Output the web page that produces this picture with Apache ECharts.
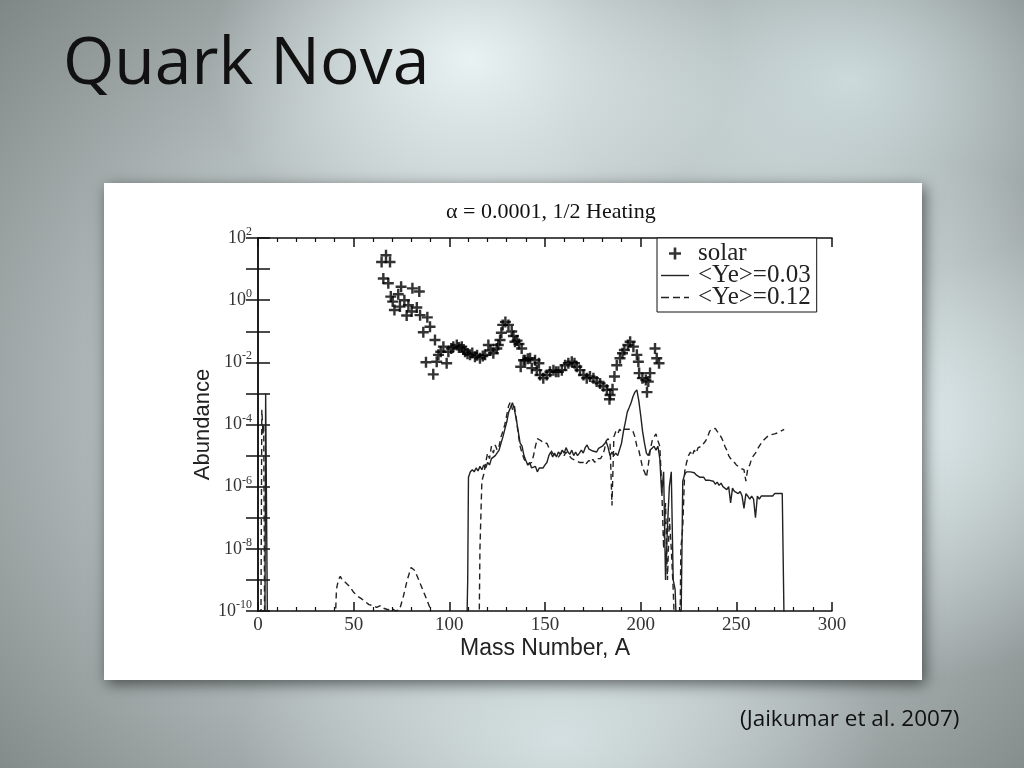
<!DOCTYPE html>
<html><head><meta charset="utf-8">
<script src="https://cdn.jsdelivr.net/npm/echarts/dist/echarts.min.js"></script>
<style>
html,body{margin:0;padding:0;width:1024px;height:768px;overflow:hidden;}
body{
 background:
  radial-gradient(ellipse 260px 200px at 470px 60px, rgba(235,245,245,0.95), rgba(235,245,245,0) 100%),
  radial-gradient(ellipse 300px 260px at 900px 420px, rgba(225,238,240,0.9), rgba(225,238,240,0) 100%),
  radial-gradient(ellipse 280px 200px at 850px 80px, rgba(215,230,232,0.8), rgba(215,230,232,0) 100%),
  radial-gradient(ellipse 320px 200px at 560px 740px, rgba(220,232,234,0.8), rgba(220,232,234,0) 100%),
  radial-gradient(ellipse 700px 600px at 520px 400px, #d6dfe0 0%, #b5bebe 55%, #7f8686 100%);
}
#c{width:1024px;height:768px;}
</style></head><body><div id="c"></div><script>
// ---- data ----
const xTickLabels = [0, 50, 100, 150, 200, 250, 300];
const chartTitle = 'α = 0.0001, 1/2 Heating';
const seriesNames = ['solar', '<Ye>=0.03', '<Ye>=0.12'];

const solar = [
 [64.6,17],[65.5,5.0],[66.9,28],[68.1,3.5],[69.0,17],[69.4,1.3],[70.4,0.9],[71.3,0.48],[73.3,1.55],[74.2,0.62],
 [74.8,2.7],[76.5,1.0],[77.7,0.32],[78.6,0.69],[80.3,0.43],[80.7,2.4],[83.0,0.58],[84.3,1.9],[84.7,0.33],[86.4,0.093],
 [87.8,0.010],[88.5,0.28],[89.9,0.14],[91.6,0.0041],[92.5,0.052],[93.4,0.0105],[94.3,0.0174],[95.5,0.022],[96.9,0.032],[98.6,0.0093],
 [99.5,0.022],[101,0.028],[102.1,0.032],[103.9,0.036],[105,0.030],[106.5,0.032],[107.5,0.026],[108.2,0.022],[109.5,0.019],[110.8,0.0174],
 [112,0.020],[113.4,0.015],[114.5,0.017],[116.0,0.0135],[117.5,0.016],[118.7,0.0174],[120.4,0.036],[121.5,0.024],[123.0,0.0195],[124.8,0.028],
 [125.6,0.036],[126.5,0.052],[127.2,0.09],[127.9,0.16],[129.3,0.2],[130.9,0.16],[132.6,0.098],[133.5,0.07],[134.3,0.046],[135.4,0.05],
 [136.4,0.039],[137.3,0.0072],[137.8,0.028],[138.8,0.0117],[139.6,0.0117],[141,0.013],[142.2,0.0135],[143.1,0.0065],[144.8,0.0117],[145.7,0.0056],
 [146.8,0.0093],[147.4,0.0039],[149.1,0.0031],[150.9,0.0039],[152.6,0.005],[154.4,0.0056],[155.7,0.005],[157.0,0.005],[158.8,0.0056],[160.5,0.0081],
 [162.2,0.0093],[164.0,0.0105],[165.4,0.0093],[166.6,0.0072],[168.3,0.0056],[170.1,0.0039],[171.8,0.0031],[173.5,0.0035],[175.3,0.0031],[177.0,0.0024],
 [178.8,0.0021],[180.5,0.0017],[182.3,0.0013],[183.7,0.00065],[184.0,0.00089],[185.3,0.00135],[186.3,0.0035],[187.5,0.0081],[189.2,0.0135],[190.5,0.0195],
 [191.5,0.025],[193.3,0.036],[194.5,0.046],[196.2,0.032],[198.0,0.0174],[198.8,0.0105],[199.2,0.0045],[200.9,0.0031],[202.7,0.0027],[203.3,0.0011],
 [204.0,0.0024],[204.9,0.0045],[207.5,0.028],[208.4,0.0135],[209.6,0.0093]
];

const ye003 = [
 [0,1e-11],[3.6,1e-11],[4,1e-3],[4.6,1e-3],[5,1e-11],[109,1e-11],[109.6,1e-9],
 [110,2e-6],[111,3e-6],[112,3.5e-6],[113,3e-6],[114,4e-6],[115,3.2e-6],[116,4.5e-6],[117,3.5e-6],[118,5e-6],[119,4e-6],
 [120,6e-6],[121,5e-6],[122,8e-6],[123,7e-6],[124,1e-5],[125,9e-6],[126,1.5e-5],[127,2.5e-5],[128,4e-5],[129,7e-5],
 [130,1.2e-4],[131,2.5e-4],[132,3.5e-4],[133,5e-4],[134,3e-4],[135,1.5e-4],[136,6e-5],[137,2.5e-5],[138,2e-5],[139,1e-5],
 [140,7e-6],[141,5e-6],[142,6e-6],[143,4e-6],[144,3.5e-6],[145,4.5e-6],[146,3e-6],[147,4e-6],[148,3.5e-6],[149,4e-6],
 [150,5e-6],[151,6e-6],[152,1e-5],[153,1.3e-5],[154,9e-6],[155,1.2e-5],[156,9e-6],[157,1.3e-5],[158,1.1e-5],[159,1.5e-5],
 [160,1.2e-5],[161,1.8e-5],[162,1.3e-5],[163,1.1e-5],[164,1.5e-5],[165,1e-5],[166,1.3e-5],[167,1e-5],[168,1.2e-5],[169,1.5e-5],
 [170,1.2e-5],[171,1.8e-5],[172,2.2e-5],[173,1.6e-5],[174,1.8e-5],[175,1.4e-5],[176,1.6e-5],[177,1.3e-5],[178,1.7e-5],[179,1.5e-5],
 [180,2e-5],[181,2.2e-5],[182,2.8e-5],[183,1.8e-5],[184,1e-5],[185,1.3e-5],[186,1e-5],[187,1.2e-5],[188,1e-5],[189,1.1e-5],
 [190,2.5e-5],[191,6e-5],[192,1.2e-4],[193,2.5e-4],[194,3.5e-4],[195,5e-4],[196,8e-4],[197,1.1e-3],[198,1.3e-3],[199,6e-4],
 [200,2e-4],[201,6e-5],[202,2.5e-5],[203,1.2e-5],[204,1e-5],[205,1.5e-5],[206,1.3e-5],[207,2e-5],[208,1.5e-5],[209,2e-5],
 [210,8e-6],[211,6e-7],[212,3e-6],[213,1e-9],[214,5e-8],[215,1e-6],[216,3e-6],[217,1e-9],[218,5e-10],[219,1e-11],
 [221,1e-11],[222,1.5e-6],[223,2.5e-6],[224,3e-6],[225,3.2e-6],[226,3e-6],[227,2.6e-6],[228,2.8e-6],[229,2.4e-6],
 [230,2.2e-6],[231,2e-6],[232,1.8e-6],[233,2e-6],[234,1.6e-6],[235,1.5e-6],[236,1.6e-6],[237,1.4e-6],[238,1.5e-6],[239,1.2e-6],
 [240,1.4e-6],[241,1.1e-6],[242,1.3e-6],[243,1e-6],[244,1.1e-6],[245,8e-7],[246,1e-6],[247,3e-7],[248,9e-7],[249,7e-7],
 [250,8e-7],[251,6e-7],[252,7e-7],[253,5e-7],[254,2e-7],[255,6e-7],[256,5e-7],[257,4e-7],[258,5e-7],[259,4e-7],
 [260,1e-7],[261,5e-7],[262,4e-7],[263,5e-7],[264,4.5e-7],[265,5e-7],[266,4.5e-7],[267,5e-7],[268,5.5e-7],[269,5e-7],
 [270,6e-7],[271,5.5e-7],[272,6e-7],[273,5.5e-7],[274,6e-7],[275,6e-7],[275.1,1e-11]
];

const ye012 = [
 [0,1e-11],[1.5,1e-11],[2,3e-4],[2.6,5e-5],[3,1e-4],[3.5,1e-11],[40,1e-11],
 [41,5e-10],[42,1e-9],[43,1.3e-9],[44,1e-9],[45,9e-10],[46,8e-10],[47,7e-10],[48,6e-10],[50,4e-10],[52,3e-10],[54,2.5e-10],
 [56,2e-10],[58,1.6e-10],[60,1.5e-10],[62,1.3e-10],[64,1.5e-10],[66,1.2e-10],[68,1.1e-10],[70,1.2e-10],[72,1e-10],[74,1.1e-10],
 [76,3e-10],[78,1e-9],[80,2.5e-9],[81,2.6e-9],[82,2e-9],[84,1e-9],[86,5e-10],[88,2.5e-10],[90,1.2e-10],[91,1e-11],
 [115.5,1e-11],[116,1e-8],[117,1.5e-6],[118,2.5e-6],[119,6e-6],[120,1.2e-5],[121,8e-6],[122,2e-5],[123,1.2e-5],[124,2.2e-5],
 [125,1.5e-5],[126,2e-5],[127,4e-5],[128,6e-5],[129,1e-4],[130,2e-4],[131,4e-4],[132,5.5e-4],[133,3e-4],[134,4e-4],
 [135,1.5e-4],[136,5e-5],[137,2e-5],[138,1.2e-5],[139,8e-6],[140,6e-6],[141,5e-6],[142,5e-6],[143,6e-6],[144,1e-5],
 [145,2e-5],[146,3.5e-5],[147,3.5e-5],[148,3e-5],[149,2.5e-5],[150,2.2e-5],[151,2.5e-5],[152,1.8e-5],[153,1.5e-5],[154,1.2e-5],
 [155,1e-5],[156,1.1e-5],[157,9e-6],[158,1.1e-5],[159,1.3e-5],[160,1e-5],[161,1.3e-5],[162,1.1e-5],[163,1e-5],[164,8e-6],
 [165,9e-6],[166,7e-6],[167,8e-6],[168,6e-6],[169,5.5e-6],[170,6e-6],[171,5e-6],[172,6e-6],[173,7e-6],[174,6e-6],
 [175,7.5e-6],[176,6e-6],[177,8e-6],[178,9e-6],[179,8e-6],[180,1e-5],[181,1.5e-5],[182,3e-5],[183,3.5e-5],[184,2.5e-5],
 [185,2.5e-7],[186,4e-5],[187,6e-5],[188,5e-5],[189,7e-5],[190,6e-5],[191,7e-5],[192,7.5e-5],[193,7e-5],[194,8e-5],
 [195,7e-5],[196,6e-5],[197,4e-5],[198,2e-5],[199,1.5e-5],[200,8e-6],[201,4e-6],[202,3e-6],[203,2e-6],[204,5e-6],
 [205,1.5e-5],[206,3e-5],[207,4e-5],[208,5e-5],[209,3e-5],[210,2e-5],[211,1e-6],[212,1e-8],[213,3e-7],[214,1e-9],
 [215,1e-7],[216,1e-8],[217,5e-10],[218,1e-11],[220.5,1e-11],[221,1e-8],[222,5e-8],[223,3e-6],[224,6e-6],
 [225,1e-5],[226,1.3e-5],[227,1e-5],[228,1.5e-5],[229,1.2e-5],[230,1.8e-5],[231,1.6e-5],[232,2e-5],[233,2.5e-5],[234,3e-5],
 [235,4e-5],[236,6e-5],[237,7e-5],[238,8e-5],[239,7.5e-5],[240,6e-5],[241,5e-5],[242,4e-5],[243,3e-5],[244,2e-5],
 [245,1.5e-5],[246,1e-5],[247,8e-6],[248,7e-6],[249,6e-6],[250,5e-6],[251,4.5e-6],[252,4e-6],[253,4e-6],[254,3.5e-6],
 [255,1.5e-6],[256,4e-6],[257,5e-6],[258,8e-6],[259,1e-5],[260,1.2e-5],[261,1.6e-5],[262,2e-5],[263,2.5e-5],[264,3e-5],
 [265,3.5e-5],[266,4e-5],[267,4.5e-5],[268,4.5e-5],[270,5e-5],[272,5.5e-5],[274,6.5e-5],[275,7e-5]
];

// ---- chart ----
const serif = 'Liberation Serif';
const sans = 'Liberation Sans';
const plusPath = 'path://M3.9,0h2.2v3.9h3.9v2.2h-3.9v3.9h-2.2v-3.9h-3.9v-2.2h3.9z';
const solidIcon = 'path://M0,0h28v1.4h-28z';
const dashIcon = 'path://M0,0h8v1.4h-8z M12,0h7v1.4h-7z M23,0h5v1.4h-5z';
const chart = echarts.init(document.getElementById('c'));
const yFmt = v => { const e = Math.round(Math.log10(v)); return (e % 2 === 0) ? '10{s|' + e + '}' : ''; };
const commonX = { type: 'value', min: 0, max: 300, interval: 50, gridIndex: 0 };
const commonY = { type: 'log', logBase: 10, min: 1e-10, max: 1e2, interval: 1, gridIndex: 0 };
chart.setOption({
  animation: false,
  backgroundColor: 'transparent',
  graphic: [
    { type: 'rect', z: -10, shape: { x: 104, y: 183, width: 818, height: 497 },
      style: { fill: '#fff', shadowBlur: 14, shadowOffsetX: 3, shadowOffsetY: 4, shadowColor: 'rgba(0,0,0,0.55)' } },
    { type: 'text', left: 63, top: 32, z: 10,
      style: { text: 'Quark Nova', font: '66px "Open Sans"', fill: '#111' } },
    { type: 'text', left: 740, top: 708, z: 10,
      style: { text: '(Jaikumar et al. 2007)', font: '22.5px "Open Sans"', fill: '#111' } },
    { type: 'text', left: 446, top: 201, z: 10,
      style: { text: chartTitle, font: '22px "' + serif + '"', fill: '#111' } }
  ],
  grid: { left: 258, top: 238, width: 574, height: 373, containLabel: false },
  legend: {
    orient: 'vertical', left: 657, top: 238,
    data: [ { name: seriesNames[0], icon: plusPath }, { name: seriesNames[1], icon: solidIcon }, { name: seriesNames[2], icon: dashIcon } ],
    backgroundColor: '#fff', borderColor: '#111', borderWidth: 1, borderRadius: 0,
    padding: [3, 6, 2, 4], itemGap: -3, itemWidth: 28, itemHeight: 12,
    textStyle: { fontFamily: serif, fontSize: 25, lineHeight: 22, color: '#222', padding: [0, 0, 0, 4] }
  },
  xAxis: [
    Object.assign({}, commonX, {
      position: 'bottom',
      name: 'Mass Number, A', nameLocation: 'middle', nameGap: 26,
      nameTextStyle: { fontFamily: sans, fontSize: 23, color: '#222' },
      axisLine: { lineStyle: { color: '#111', width: 1.5 } },
      axisTick: { inside: true, length: 9, lineStyle: { color: '#111', width: 1.5 } },
      minorTick: { show: true, splitNumber: 5, length: 4, lineStyle: { color: '#111', width: 1.2 } },
      axisLabel: { fontFamily: serif, fontSize: 19, color: '#333', margin: 5 },
      splitLine: { show: false }
    }),
    Object.assign({}, commonX, {
      position: 'top',
      axisLine: { lineStyle: { color: '#111', width: 1.5 } },
      axisTick: { inside: true, length: 9, lineStyle: { color: '#111', width: 1.5 } },
      minorTick: { show: true, splitNumber: 5, length: 4, lineStyle: { color: '#111', width: 1.2 } },
      axisLabel: { show: false }, splitLine: { show: false }
    })
  ],
  yAxis: [
    Object.assign({}, commonY, {
      position: 'left',
      name: 'Abundance', nameLocation: 'middle', nameGap: 44, nameRotate: 90, nameMoveOverlap: false,
      nameTextStyle: { fontFamily: sans, fontSize: 22, color: '#222' },
      axisLine: { lineStyle: { color: '#111', width: 1.5 } },
      axisTick: { inside: true, length: 12, lineStyle: { color: '#111', width: 1.5 } },
      axisLabel: { formatter: yFmt, fontFamily: serif, fontSize: 18, color: '#333', margin: 6,
        rich: { s: { fontFamily: serif, fontSize: 12, color: '#333', padding: [0, 0, 12, 0] } } },
      splitLine: { show: false }
    }),
    Object.assign({}, commonY, {
      position: 'right',
      axisLine: { lineStyle: { color: '#111', width: 1.5 } },
      axisTick: { inside: true, length: 12, lineStyle: { color: '#111', width: 1.5 } },
      axisLabel: { show: false }, splitLine: { show: false }
    })
  ],
  series: [
    { name: seriesNames[1], type: 'line', data: ye003, symbol: 'none', clip: true,
      lineStyle: { color: '#222', width: 1.4 }, itemStyle: { color: '#222' }, z: 3 },
    { name: seriesNames[2], type: 'line', data: ye012, symbol: 'none', clip: true,
      lineStyle: { color: '#222', width: 1.4, type: [6, 4] }, itemStyle: { color: '#222' }, z: 3 },
    { name: seriesNames[0], type: 'scatter', data: solar, symbol: plusPath, symbolSize: 11,
      itemStyle: { color: '#000' }, z: 4 }
  ]
});
</script></body></html>
